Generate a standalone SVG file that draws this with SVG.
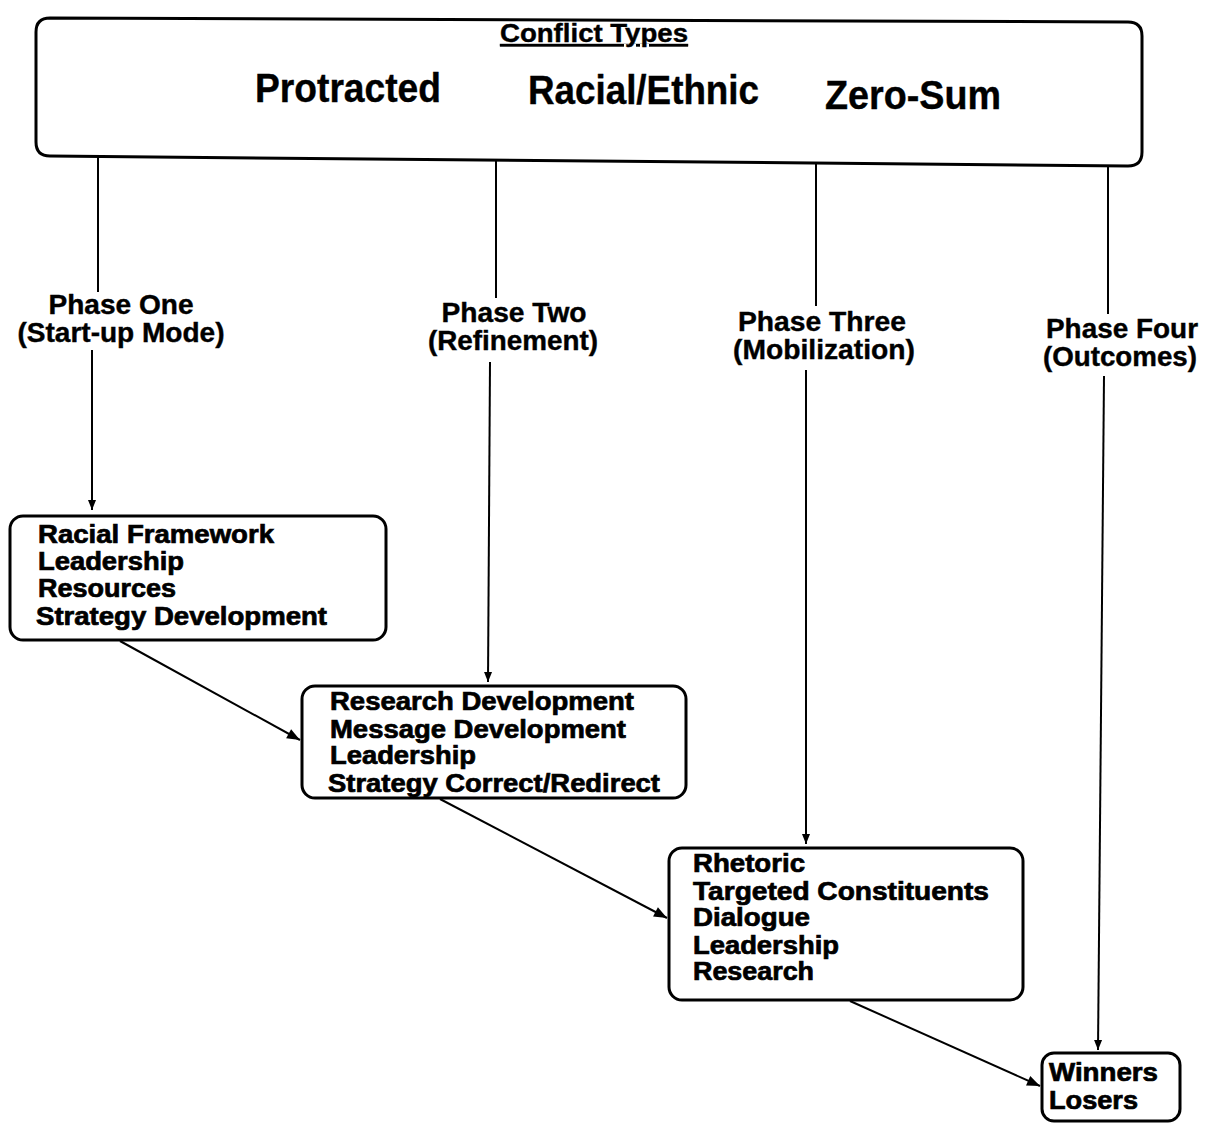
<svg xmlns="http://www.w3.org/2000/svg" width="1211" height="1124" viewBox="0 0 1211 1124">
<defs>
<marker id="ah" viewBox="0 0 10 10" refX="10" refY="5" markerWidth="12" markerHeight="10" markerUnits="userSpaceOnUse" orient="auto"><path d="M0,1 L10,5 L0,9 Z" fill="#000"/></marker>
<marker id="ahs" viewBox="0 0 10 10" refX="10" refY="5" markerWidth="18" markerHeight="13" markerUnits="userSpaceOnUse" orient="auto"><path d="M0,1 L10,5 L0,9 Z" fill="#000"/></marker>
</defs>
<style>
.box{fill:#fff;stroke:#000;stroke-width:3}
.cond{font-family:"Liberation Sans",Arial,sans-serif;font-weight:bold;fill:#000;stroke:#000;stroke-width:0.4}
.body{font-family:"Liberation Sans",Arial,sans-serif;font-weight:bold;font-size:25px;fill:#000;stroke:#000;stroke-width:0.7}
.conn line{stroke:#000;stroke-width:2}
</style>
<rect width="1211" height="1124" fill="#fff"/>
<g id="conflict-types">
<path class="box" d="M50,18 L1128,22 Q1142,22 1142,36 L1142,152 Q1142,166 1128,166 L50,156 Q36,156 36,142 L36,32 Q36,18 50,18 Z"/>
<text class="cond" x="594" y="42" font-size="25" text-anchor="middle" textLength="188" lengthAdjust="spacingAndGlyphs" text-decoration="underline">Conflict Types</text>
<text class="cond" x="255" y="102" font-size="40" textLength="186" lengthAdjust="spacingAndGlyphs">Protracted</text>
<text class="cond" x="528" y="104" font-size="40" textLength="231" lengthAdjust="spacingAndGlyphs">Racial/Ethnic</text>
<text class="cond" x="825" y="109" font-size="40" textLength="176" lengthAdjust="spacingAndGlyphs">Zero-Sum</text>
</g>
<g id="phase-labels">
<text class="cond" font-size="27" text-anchor="middle"><tspan x="121" y="314" textLength="145" lengthAdjust="spacingAndGlyphs">Phase One</tspan><tspan x="121" y="342" textLength="207" lengthAdjust="spacingAndGlyphs">(Start-up Mode)</tspan></text>
<text class="cond" font-size="27" text-anchor="middle"><tspan x="514" y="322" textLength="145" lengthAdjust="spacingAndGlyphs">Phase Two</tspan><tspan x="513" y="350" textLength="170" lengthAdjust="spacingAndGlyphs">(Refinement)</tspan></text>
<text class="cond" font-size="27" text-anchor="middle"><tspan x="822" y="331" textLength="168" lengthAdjust="spacingAndGlyphs">Phase Three</tspan><tspan x="824" y="359" textLength="182" lengthAdjust="spacingAndGlyphs">(Mobilization)</tspan></text>
<text class="cond" font-size="27" text-anchor="middle"><tspan x="1122" y="338" textLength="152" lengthAdjust="spacingAndGlyphs">Phase Four</tspan><tspan x="1120" y="366" textLength="154" lengthAdjust="spacingAndGlyphs">(Outcomes)</tspan></text>
</g>
<g id="connectors" class="conn">
<line x1="98" y1="156" x2="98" y2="292"/>
<line x1="92" y1="350" x2="92" y2="510" marker-end="url(#ah)"/>
<line x1="496" y1="160" x2="496" y2="298"/>
<line x1="490" y1="362" x2="488" y2="682" marker-end="url(#ah)"/>
<line x1="816" y1="163" x2="816" y2="306"/>
<line x1="806" y1="370" x2="806" y2="844" marker-end="url(#ah)"/>
<line x1="1108" y1="166" x2="1108" y2="314"/>
<line x1="1104" y1="376" x2="1098" y2="1050" marker-end="url(#ah)"/>
<line x1="120" y1="641" x2="300" y2="740" marker-end="url(#ahs)"/>
<line x1="440" y1="799" x2="667" y2="918" marker-end="url(#ahs)"/>
<line x1="850" y1="1001" x2="1040" y2="1086" marker-end="url(#ahs)"/>
</g>
<g id="phase-one">
<rect class="box" x="10" y="516" width="376" height="124" rx="13"/>
<text class="body"><tspan x="38" y="543" textLength="236" lengthAdjust="spacingAndGlyphs">Racial Framework</tspan><tspan x="38" y="570" textLength="146" lengthAdjust="spacingAndGlyphs">Leadership</tspan><tspan x="38" y="597" textLength="138" lengthAdjust="spacingAndGlyphs">Resources</tspan><tspan x="36" y="625" textLength="291" lengthAdjust="spacingAndGlyphs">Strategy Development</tspan></text>
</g>
<g id="phase-two">
<rect class="box" x="302" y="686" width="384" height="112" rx="13"/>
<text class="body"><tspan x="330" y="710" textLength="304" lengthAdjust="spacingAndGlyphs">Research Development</tspan><tspan x="330" y="738" textLength="296" lengthAdjust="spacingAndGlyphs">Message Development</tspan><tspan x="330" y="764" textLength="146" lengthAdjust="spacingAndGlyphs">Leadership</tspan><tspan x="328" y="792" textLength="332" lengthAdjust="spacingAndGlyphs">Strategy Correct/Redirect</tspan></text>
</g>
<g id="phase-three">
<rect class="box" x="669" y="848" width="354" height="152" rx="13"/>
<text class="body"><tspan x="693" y="872" textLength="112" lengthAdjust="spacingAndGlyphs">Rhetoric</tspan><tspan x="693" y="900" textLength="296" lengthAdjust="spacingAndGlyphs">Targeted Constituents</tspan><tspan x="693" y="926" textLength="117" lengthAdjust="spacingAndGlyphs">Dialogue</tspan><tspan x="693" y="954" textLength="146" lengthAdjust="spacingAndGlyphs">Leadership</tspan><tspan x="693" y="980" textLength="121" lengthAdjust="spacingAndGlyphs">Research</tspan></text>
</g>
<g id="phase-four">
<rect class="box" x="1042" y="1053" width="138" height="68" rx="12"/>
<text class="body"><tspan x="1049" y="1081" textLength="109" lengthAdjust="spacingAndGlyphs">Winners</tspan><tspan x="1049" y="1109" textLength="89" lengthAdjust="spacingAndGlyphs">Losers</tspan></text>
</g>
</svg>
